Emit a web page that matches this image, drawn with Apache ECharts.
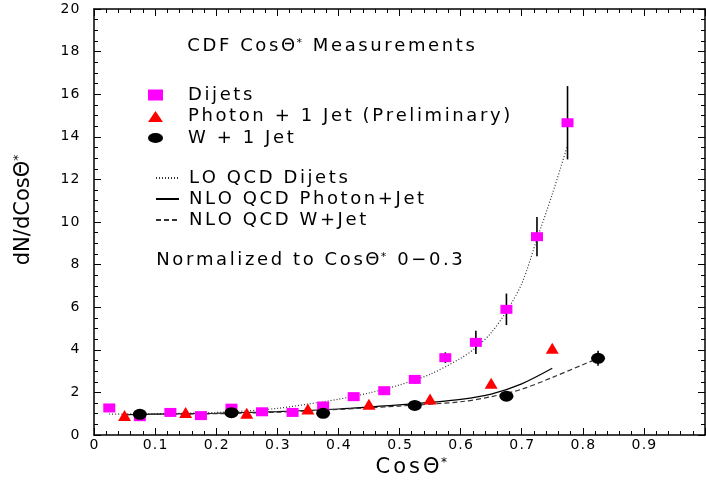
<!DOCTYPE html>
<html>
<head>
<meta charset="utf-8">
<script src="https://cdn.jsdelivr.net/npm/echarts@6/dist/echarts.min.js"></script>
<style>html,body{margin:0;padding:0;background:#fff}#c{width:706px;height:480px}</style>
</head>
<body>
<div id="c"></div>
<script>
// ---- data ----
const xDijets = [0.025,0.075,0.125,0.175,0.225,0.275,0.325,0.375,0.425,0.475,0.525,0.575,0.625,0.675,0.725,0.775];
const yDijets = [1.27,0.86,1.06,0.91,1.26,1.09,1.06,1.36,1.80,2.08,2.61,3.63,4.35,5.90,9.31,14.66];
const eDijets = [0,0,0,0,0,0,0,0,0.08,0.12,0.2,0.25,0.55,0.74,0.92,1.72];
const xPhoton = [0.05,0.15,0.25,0.35,0.45,0.55,0.65,0.75];
const yPhoton = [0.91,1.06,1.02,1.22,1.44,1.69,2.43,4.07];
const xW = [0.075,0.225,0.375,0.525,0.675,0.825];
const yW = [0.97,1.05,1.02,1.39,1.82,3.60];
const eW = [0,0,0,0.1,0.1,0.35];
const xLO = [0.025,0.1,0.15,0.2,0.25,0.3,0.35,0.4,0.45,0.5,0.55,0.6,0.625,0.65,0.675,0.7,0.725,0.75,0.775];
const yLO = [0.98,1.0,1.02,1.06,1.13,1.25,1.45,1.68,1.97,2.35,2.85,3.6,4.1,4.8,5.8,7.1,9.2,11.3,13.6];
const xNLOg = [0.05,0.1,0.2,0.3,0.4,0.5,0.55,0.6,0.65,0.7,0.75];
const yNLOg = [0.95,0.98,1.02,1.1,1.22,1.41,1.53,1.67,1.92,2.4,3.13];
const xNLOw = [0.05,0.1,0.2,0.3,0.4,0.5,0.6,0.65,0.7,0.75,0.8,0.825];
const yNLOw = [0.95,0.97,1.0,1.07,1.2,1.36,1.56,1.8,2.15,2.7,3.3,3.6];
const xTicks = ['0','0.1','0.2','0.3','0.4','0.5','0.6','0.7','0.8','0.9'];
const yTicks = ['0','2','4','6','8','10','12','14','16','18','20'];

const names = {
  dij: 'Dijets', pho: 'Photon + 1 Jet (Preliminary)', w: 'W + 1 Jet',
  lo: 'LO QCD Dijets', nlog: 'NLO QCD Photon+Jet', nlow: 'NLO QCD W+Jet'
};
const FONT = 'DejaVu Sans';
const ellipse = 'path://M0,5a7.5,5 0 1,0 15,0a7.5,5 0 1,0 -15,0z';
const zip = (xs, ys) => xs.map((x, i) => [x, ys[i]]);
const zip3 = (xs, ys, es) => xs.map((x, i) => [x, ys[i], es[i]]);
// letter-spaced rich text: each character as its own token
const sp = (str, tok) => str.split('').map(c => '{' + tok + '|' + c + '}').join('');

function errBar(params, api) {
  const x = api.value(0), y = api.value(1), e = api.value(2);
  if (!e) return null;
  const p1 = api.coord([x, y + e]), p2 = api.coord([x, y - e]);
  return {type: 'line', shape: {x1: p1[0], y1: p1[1], x2: p2[0], y2: p2[1]},
          style: {stroke: '#000', lineWidth: 1.6}};
}

const axisCommon = {
  axisLine: {show: true, onZero: false, lineStyle: {color: '#000', width: 1.5}},
  axisTick: {show: true, inside: true, length: 7, lineStyle: {color: '#000', width: 1}},
  splitLine: {show: false}
};
const txt = {fontFamily: FONT, fontSize: 18, color: '#000', padding: [0, 1.3, 0, 1.3], lineHeight: 16};
const sup = {fontFamily: FONT, fontSize: 11, color: '#000', verticalAlign: 'top', padding: [0, 1.3, 0, 0], lineHeight: 16};
const rich = {a: txt, s: sup};
const richBig = {
  a: {fontFamily: FONT, fontSize: 21, color: '#000', padding: [0, 1.5, 0, 1.5]},
  s: {fontFamily: FONT, fontSize: 12, color: '#000', verticalAlign: 'top'}
};
const tickRich = {t: {fontFamily: FONT, fontSize: 14, color: '#000', padding: [0, 0.6, 0, 0.6]}};
const legendFmt = name => sp(name, 'a');

const chart = echarts.init(document.getElementById('c'));
chart.setOption({
  backgroundColor: '#fff',
  animation: false,
  grid: {left: 94, right: 1, top: 9, bottom: 45, containLabel: false, outerBoundsMode: 'none'},
  xAxis: [
    Object.assign({type: 'value', min: 0, max: 1, interval: 0.1, position: 'bottom',
      axisLabel: {margin: 3, showMaxLabel: false, rich: tickRich,
        formatter: v => { const s = String(Math.round(v * 10) / 10); return xTicks.indexOf(s) >= 0 ? sp(s, 't') : ''; }},
      name: sp('CosΘ', 'a') + '{s|*}', nameLocation: 'middle', nameGap: 12,
      nameTextStyle: {rich: richBig, padding: [0, 0, 0, 22]}}, axisCommon,
      {minorTick: {show: true, splitNumber: 5, length: 4, lineStyle: {color: '#000'}}}),
    Object.assign({type: 'value', min: 0, max: 1, interval: 0.1, position: 'top',
      axisLabel: {show: false}}, axisCommon,
      {minorTick: {show: true, splitNumber: 5, length: 4, lineStyle: {color: '#000'}}})
  ],
  yAxis: [
    Object.assign({type: 'value', min: 0, max: 20, interval: 2, position: 'left',
      axisLabel: {margin: 14, rich: tickRich,
        formatter: v => (yTicks.indexOf(String(v)) >= 0 ? sp(String(v), 't') : '')},
      name: '{a|dN/dCosΘ}{s|*}', nameLocation: 'middle', nameGap: 60, nameRotate: 90,
      nameTextStyle: {rich: {a: {fontFamily: FONT, fontSize: 21, color: '#000'}, s: richBig.s}, padding: [0, 0, 0, 24]}}, axisCommon,
      {minorTick: {show: true, splitNumber: 4, length: 4, lineStyle: {color: '#000'}}}),
    Object.assign({type: 'value', min: 0, max: 20, interval: 2, position: 'right',
      axisLabel: {show: false}}, axisCommon,
      {minorTick: {show: true, splitNumber: 4, length: 4, lineStyle: {color: '#000'}}})
  ],
  legend: [
    {left: 143, top: 81, orient: 'vertical', itemWidth: 15, itemHeight: 11, itemGap: 3.5,
     formatter: legendFmt,
     textStyle: {rich: rich, padding: [0, 0, 0, 18.7]},
     data: [{name: names.dij, icon: 'rect'}, {name: names.pho, icon: 'triangle'}, {name: names.w, icon: ellipse}]},
    {left: 150, top: 164, orient: 'vertical', itemWidth: 23, itemHeight: 11, itemGap: 3,
     formatter: legendFmt, itemStyle: {opacity: 0},
     textStyle: {rich: rich, padding: [0, 0, 0, 3.7]},
     data: [names.lo, names.nlog, names.nlow]}
  ],
  graphic: [
    {type: 'text', x: 186, y: 46, style: {text: sp('CDF CosΘ', 'a') + '{s|*}' + sp(' Measurements', 'a'), rich: rich, verticalAlign: 'middle', align: 'left'}},
    {type: 'text', x: 155, y: 260, style: {text: sp('Normalized to CosΘ', 'a') + '{s|*}' + sp(' 0−0.3', 'a'), rich: rich, verticalAlign: 'middle', align: 'left'}}
  ],
  series: [
    {name: names.lo, type: 'line', data: zip(xLO, yLO), smooth: 0.3, symbol: 'none', z: 1,
     lineStyle: {color: '#333', width: 1.2, type: [1, 2]}, itemStyle: {color: '#333'}},
    {name: names.nlog, type: 'line', data: zip(xNLOg, yNLOg), smooth: 0.3, symbol: 'none', z: 1,
     lineStyle: {color: '#000', width: 1.2, type: 'solid'}, itemStyle: {color: '#000'}},
    {name: names.nlow, type: 'line', data: zip(xNLOw, yNLOw), smooth: 0.3, symbol: 'none', z: 1,
     lineStyle: {color: '#333', width: 1.2, type: [5, 3]}, itemStyle: {color: '#333'}},
    {type: 'custom', data: zip3(xDijets, yDijets, eDijets), renderItem: errBar, z: 2, silent: true},
    {type: 'custom', data: zip3(xW, yW, eW), renderItem: errBar, z: 2, silent: true},
    {name: names.dij, type: 'scatter', data: zip(xDijets, yDijets), symbol: 'rect', symbolSize: [12, 9], z: 3,
     itemStyle: {color: '#ff00ff', opacity: 1}},
    {name: names.pho, type: 'scatter', data: zip(xPhoton, yPhoton), symbol: 'triangle', symbolSize: [13, 11], z: 3,
     itemStyle: {color: '#ff0000', opacity: 1}},
    {name: names.w, type: 'scatter', data: zip(xW, yW), symbol: ellipse, symbolSize: [14, 11], z: 3,
     itemStyle: {color: '#000', opacity: 1}}
  ]
});
</script>
</body>
</html>
